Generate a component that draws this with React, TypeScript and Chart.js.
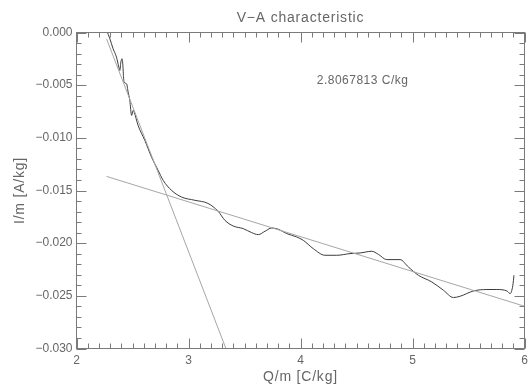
import React, { useEffect, useRef } from "react";
import { Chart, registerables } from "chart.js";

Chart.register(...registerables);

// ---- Data ----
const curveQ = [
  2.269, 2.298, 2.327, 2.357, 2.378, 2.387, 2.396, 2.407, 2.416, 2.418, 2.425,
  2.447, 2.461, 2.476, 2.492, 2.506, 2.515, 2.55, 2.61, 2.67, 2.729, 2.774,
  2.849, 2.938, 3.057, 3.173, 3.265, 3.325, 3.399, 3.489, 3.564, 3.623, 3.683,
  3.743, 3.802, 3.877, 3.966, 4.025, 4.114, 4.219, 4.324, 4.442, 4.532, 4.636,
  4.695, 4.77, 4.889, 4.963, 5.053, 5.172, 5.276, 5.365, 5.425, 5.544, 5.664,
  5.753, 5.843, 5.872, 5.896, 5.906,
];
const curveI = [
  0.0002, -0.0006, -0.00155, -0.00234, -0.00329, -0.0036, -0.00282, -0.00249,
  -0.00344, -0.00392, -0.00471, -0.00487, -0.00566, -0.00645, -0.00787,
  -0.0074, -0.00756, -0.00882, -0.01024, -0.01183, -0.01309, -0.01404,
  -0.01499, -0.01562, -0.01593, -0.01622, -0.01698, -0.01783, -0.01837,
  -0.01862, -0.019, -0.01919, -0.01887, -0.01856, -0.01868, -0.01909,
  -0.01941, -0.01973, -0.02052, -0.02115, -0.02115, -0.02099, -0.02093,
  -0.02077, -0.02106, -0.02156, -0.02156, -0.02226, -0.02305, -0.02368,
  -0.02447, -0.02516, -0.02504, -0.02454, -0.0244, -0.0244, -0.02454,
  -0.02478, -0.024, -0.02305,
];
const steepFitQ = [2.268, 3.334];
const steepFitI = [-0.0006, -0.03];
const flatFitQ = [2.268, 6.0];
const flatFitI = [-0.01366, -0.02599];

const xMin = 2;
const xMax = 6;
const yMin = -0.03;
const yMax = 0;
const xTickValues = [2, 3, 4, 5, 6];
const xTickLabels = ["2", "3", "4", "5", "6"];
const xMinorStep = 0.1;
const yTickValues = [0, -0.005, -0.01, -0.015, -0.02, -0.025, -0.03];
const yTickLabels = ["0.000", "\u22120.005", "\u22120.010", "\u22120.015", "\u22120.020", "\u22120.025", "\u22120.030"];
const yMinorStep = 0.001;

const chartTitle = "V\u2212A characteristic";
const xTitle = "Q/m [C/kg]";
const yTitle = "I/m [A/kg]";
const annotationText = "2.8067813 C/kg";
const annotationQ = 4.145;
const annotationI = -0.00455;

const toPoints = (xs: number[], ys: number[]) => xs.map((x, i) => ({ x, y: ys[i] }));

const FONT = '"Liberation Sans", Arial, sans-serif';
const TEXT_COLOR = "#666666";
const AXIS_COLOR = "#7a7a7a";

const framePlugin = {
  id: "idlFrame",
  afterDraw(chart: any) {
    const { ctx, chartArea } = chart;
    const xs = chart.scales.x;
    const ys = chart.scales.y;
    const { left, right, top, bottom } = chartArea;
    ctx.save();
    ctx.strokeStyle = AXIS_COLOR;
    ctx.lineWidth = 1;
    ctx.strokeRect(left, top, right - left, bottom - top);

    const majorLen = 10;
    const minorLen = 5;
    ctx.beginPath();
    const nx = Math.round((xMax - xMin) / xMinorStep);
    for (let i = 0; i <= nx; i++) {
      const v = xMin + i * xMinorStep;
      const px = Math.round(xs.getPixelForValue(v)) + 0.5;
      const len = i % 10 === 0 ? majorLen : minorLen;
      ctx.moveTo(px, bottom);
      ctx.lineTo(px, bottom - len);
      ctx.moveTo(px, top);
      ctx.lineTo(px, top + len);
    }
    const ny = Math.round((yMax - yMin) / yMinorStep);
    for (let i = 0; i <= ny; i++) {
      const v = yMax - i * yMinorStep;
      const py = Math.round(ys.getPixelForValue(v)) + 0.5;
      const len = i % 5 === 0 ? majorLen : minorLen;
      ctx.moveTo(left, py);
      ctx.lineTo(left + len, py);
      ctx.moveTo(right, py);
      ctx.lineTo(right - len, py);
    }
    ctx.stroke();

    ctx.fillStyle = TEXT_COLOR;
    ctx.font = `12px ${FONT}`;
    ctx.textAlign = "center";
    ctx.textBaseline = "middle";
    xTickValues.forEach((v, i) => {
      ctx.fillText(xTickLabels[i], xs.getPixelForValue(v), bottom + 12);
    });
    ctx.textAlign = "right";
    yTickValues.forEach((v, i) => {
      ctx.fillText(yTickLabels[i], left - 4, ys.getPixelForValue(v));
    });

    const cx = (left + right) / 2;
    ctx.font = `14px ${FONT}`;
    (ctx as any).letterSpacing = "0.8px";
    ctx.textAlign = "center";
    ctx.fillText(chartTitle, cx, 18);
    ctx.fillText(xTitle, cx, bottom + 29);
    ctx.save();
    ctx.translate(20, (top + bottom) / 2);
    ctx.rotate(-Math.PI / 2);
    ctx.fillText(yTitle, 0, 0);
    ctx.restore();

    ctx.font = `12px ${FONT}`;
    (ctx as any).letterSpacing = "0.5px";
    ctx.textAlign = "left";
    ctx.fillText(annotationText, xs.getPixelForValue(annotationQ), ys.getPixelForValue(annotationI));
    ctx.restore();
  },
};

export default function App() {
  const canvasRef = useRef<HTMLCanvasElement | null>(null);

  useEffect(() => {
    if (!canvasRef.current) return;
    const chart = new Chart(canvasRef.current, {
      type: "scatter",
      data: {
        datasets: [
          {
            data: toPoints(steepFitQ, steepFitI),
            showLine: true,
            borderColor: "#a6a6a6",
            borderWidth: 1,
            pointRadius: 0,
          },
          {
            data: toPoints(flatFitQ, flatFitI),
            showLine: true,
            borderColor: "#a6a6a6",
            borderWidth: 1,
            pointRadius: 0,
          },
          {
            data: toPoints(curveQ, curveI),
            showLine: true,
            borderColor: "#3c3c3c",
            borderWidth: 1,
            pointRadius: 0,
            cubicInterpolationMode: "monotone",
          },
        ],
      },
      options: {
        animation: false,
        responsive: false,
        devicePixelRatio: 1,
        layout: { padding: { left: 76.5, right: 6.5, top: 32.5, bottom: 36.5 } },
        scales: {
          x: { type: "linear", min: xMin, max: xMax, display: false },
          y: { type: "linear", min: yMin, max: yMax, display: false },
        },
        plugins: {
          legend: { display: false },
          tooltip: { enabled: false },
          title: { display: false },
        },
      },
      plugins: [framePlugin],
    });
    return () => chart.destroy();
  }, []);

  return (
    <div style={{ position: "fixed", left: 0, top: 0, width: 531, height: 385, background: "#fff" }}>
      <canvas ref={canvasRef} width={531} height={385} style={{ display: "block" }} />
    </div>
  );
}
